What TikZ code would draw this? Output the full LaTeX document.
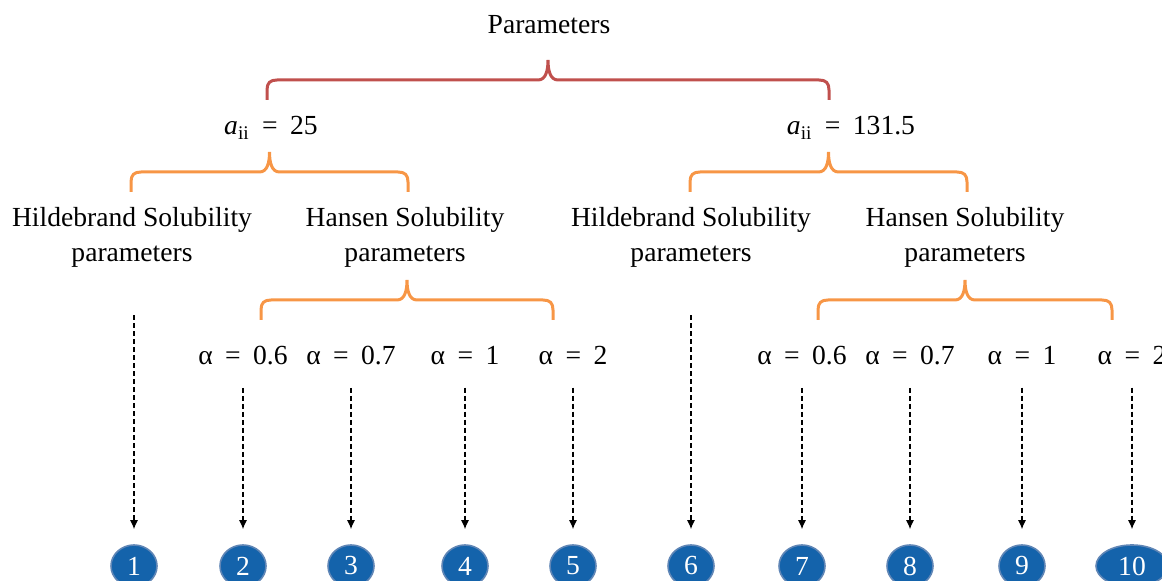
\documentclass[tikz,border=0pt]{standalone}
\usepackage{fontspec}
\setmainfont{Liberation Serif}
\usetikzlibrary{shapes.geometric,arrows.meta,positioning,calc}

\definecolor{bracered}{RGB}{192,80,77}
\definecolor{braceorange}{RGB}{247,150,70}
\definecolor{caseblue}{RGB}{20,99,171}
\definecolor{caseedge}{RGB}{96,134,182}

\newcommand{\eqgap}{\hspace{0.45em}}
\newcommand{\alphaval}[1]{α\eqgap=\eqgap#1}
\newcommand{\aiival}[1]{\textit{a}\textsubscript{ii}\eqgap=\eqgap#1}
% curly brace between two feet, spike in the middle
\newcommand{\groupbrace}[3]{%
    \draw[#1] (#2) -- ++(0,-10)
        .. controls +(0,-7) and +(-7,0) .. ($(#2)+(10,-20)$)
        -- ($(#2)!.5!(#3)+(-10,-20)$)
        .. controls +(8,0) and +(0,10) .. ($(#2)!.5!(#3)+(0,-40)$)
        .. controls +(0,10) and +(-8,0) .. ($(#2)!.5!(#3)+(10,-20)$)
        -- ($(#3)+(-10,-20)$)
        .. controls +(7,0) and +(0,-7) .. ($(#3)+(0,-10)$) -- (#3);}

\begin{document}
\begin{tikzpicture}[x = 0.5pt, y = -0.5pt,
                    lbl/.style = {font = \fontsize{13.8}{17.5}\selectfont, align = center, inner sep = 2pt},
                    case/.style = {ellipse, fill = caseblue, draw = caseedge, line width = 0.8pt,
                                   text = white, inner sep = 0pt, minimum width = 23pt, minimum height = 21pt,
                                   font = \fontsize{13.8}{16}\selectfont},
                    dasharrow/.style = {-{Latex[length = 4.5pt, width = 4pt]}, dashed,
                                        dash pattern = on 2.5pt off 1.5pt, line width = 0.6pt},
                    redbrace/.style = {bracered, line width = 1.5pt},
                    orangebrace/.style = {braceorange, line width = 1.5pt}]
    \clip (0,0) rectangle (1162,581);

    \node[lbl] (params) at (549,25) {Parameters};
    \node[lbl] (a25) at (271,128) {\aiival{25}};
    \node[lbl] (a131) at (851,128) {\aiival{131.5}};

    \node[lbl] (hild1) at (132,237) {Hildebrand Solubility\\parameters};
    \node[lbl] (hans1) at (405,237) {Hansen Solubility\\parameters};
    \node[lbl] (hild2) at (691,237) {Hildebrand Solubility\\parameters};
    \node[lbl] (hans2) at (965,237) {Hansen Solubility\\parameters};

    % brace feet
    \coordinate (rb-l) at (267,100);
    \coordinate (rb-r) at (829,100);
    \coordinate (ob1-l) at (131,192);
    \coordinate (ob1-r) at (408,192);
    \coordinate (ob2-l) at (690,192);
    \coordinate (ob2-r) at (967,192);
    \coordinate (ob3-l) at (261,320);
    \coordinate (ob3-r) at (553,320);
    \coordinate (ob4-l) at (818,320);
    \coordinate (ob4-r) at (1112,320);

    \groupbrace{redbrace}{rb-l}{rb-r}
    \groupbrace{orangebrace}{ob1-l}{ob1-r}
    \groupbrace{orangebrace}{ob2-l}{ob2-r}
    \groupbrace{orangebrace}{ob3-l}{ob3-r}
    \groupbrace{orangebrace}{ob4-l}{ob4-r}

    % alpha values
    \foreach \n/\x/\v in {2/243/0.6, 3/351/0.7, 4/465/1, 5/573/2,
                          7/802/0.6, 8/910/0.7, 9/1022/1, 10/1132/2}
        \node[lbl] (al\n) at (\x,356) {\alphaval{\v}};

    % cases
    \foreach \n/\x in {1/134, 2/243, 3/351, 4/465, 5/573, 6/691, 7/802, 8/910, 9/1022}
        \node[case] (c\n) at (\x,566) {\n};
    \node[case, minimum width = 36pt] (c10) at (1132,566) {10};

    \draw[dasharrow, shorten < = 22pt, shorten > = 7.5pt] (hild1.south -| c1) -- (c1);
    \draw[dasharrow, shorten < = 22pt, shorten > = 7.5pt] (hild2.south -| c6) -- (c6);
    \foreach \n in {2,3,4,5,7,8,9,10}
        \draw[dasharrow, shorten < = 9pt, shorten > = 7.5pt] (al\n) -- (c\n);
\end{tikzpicture}
\end{document}
